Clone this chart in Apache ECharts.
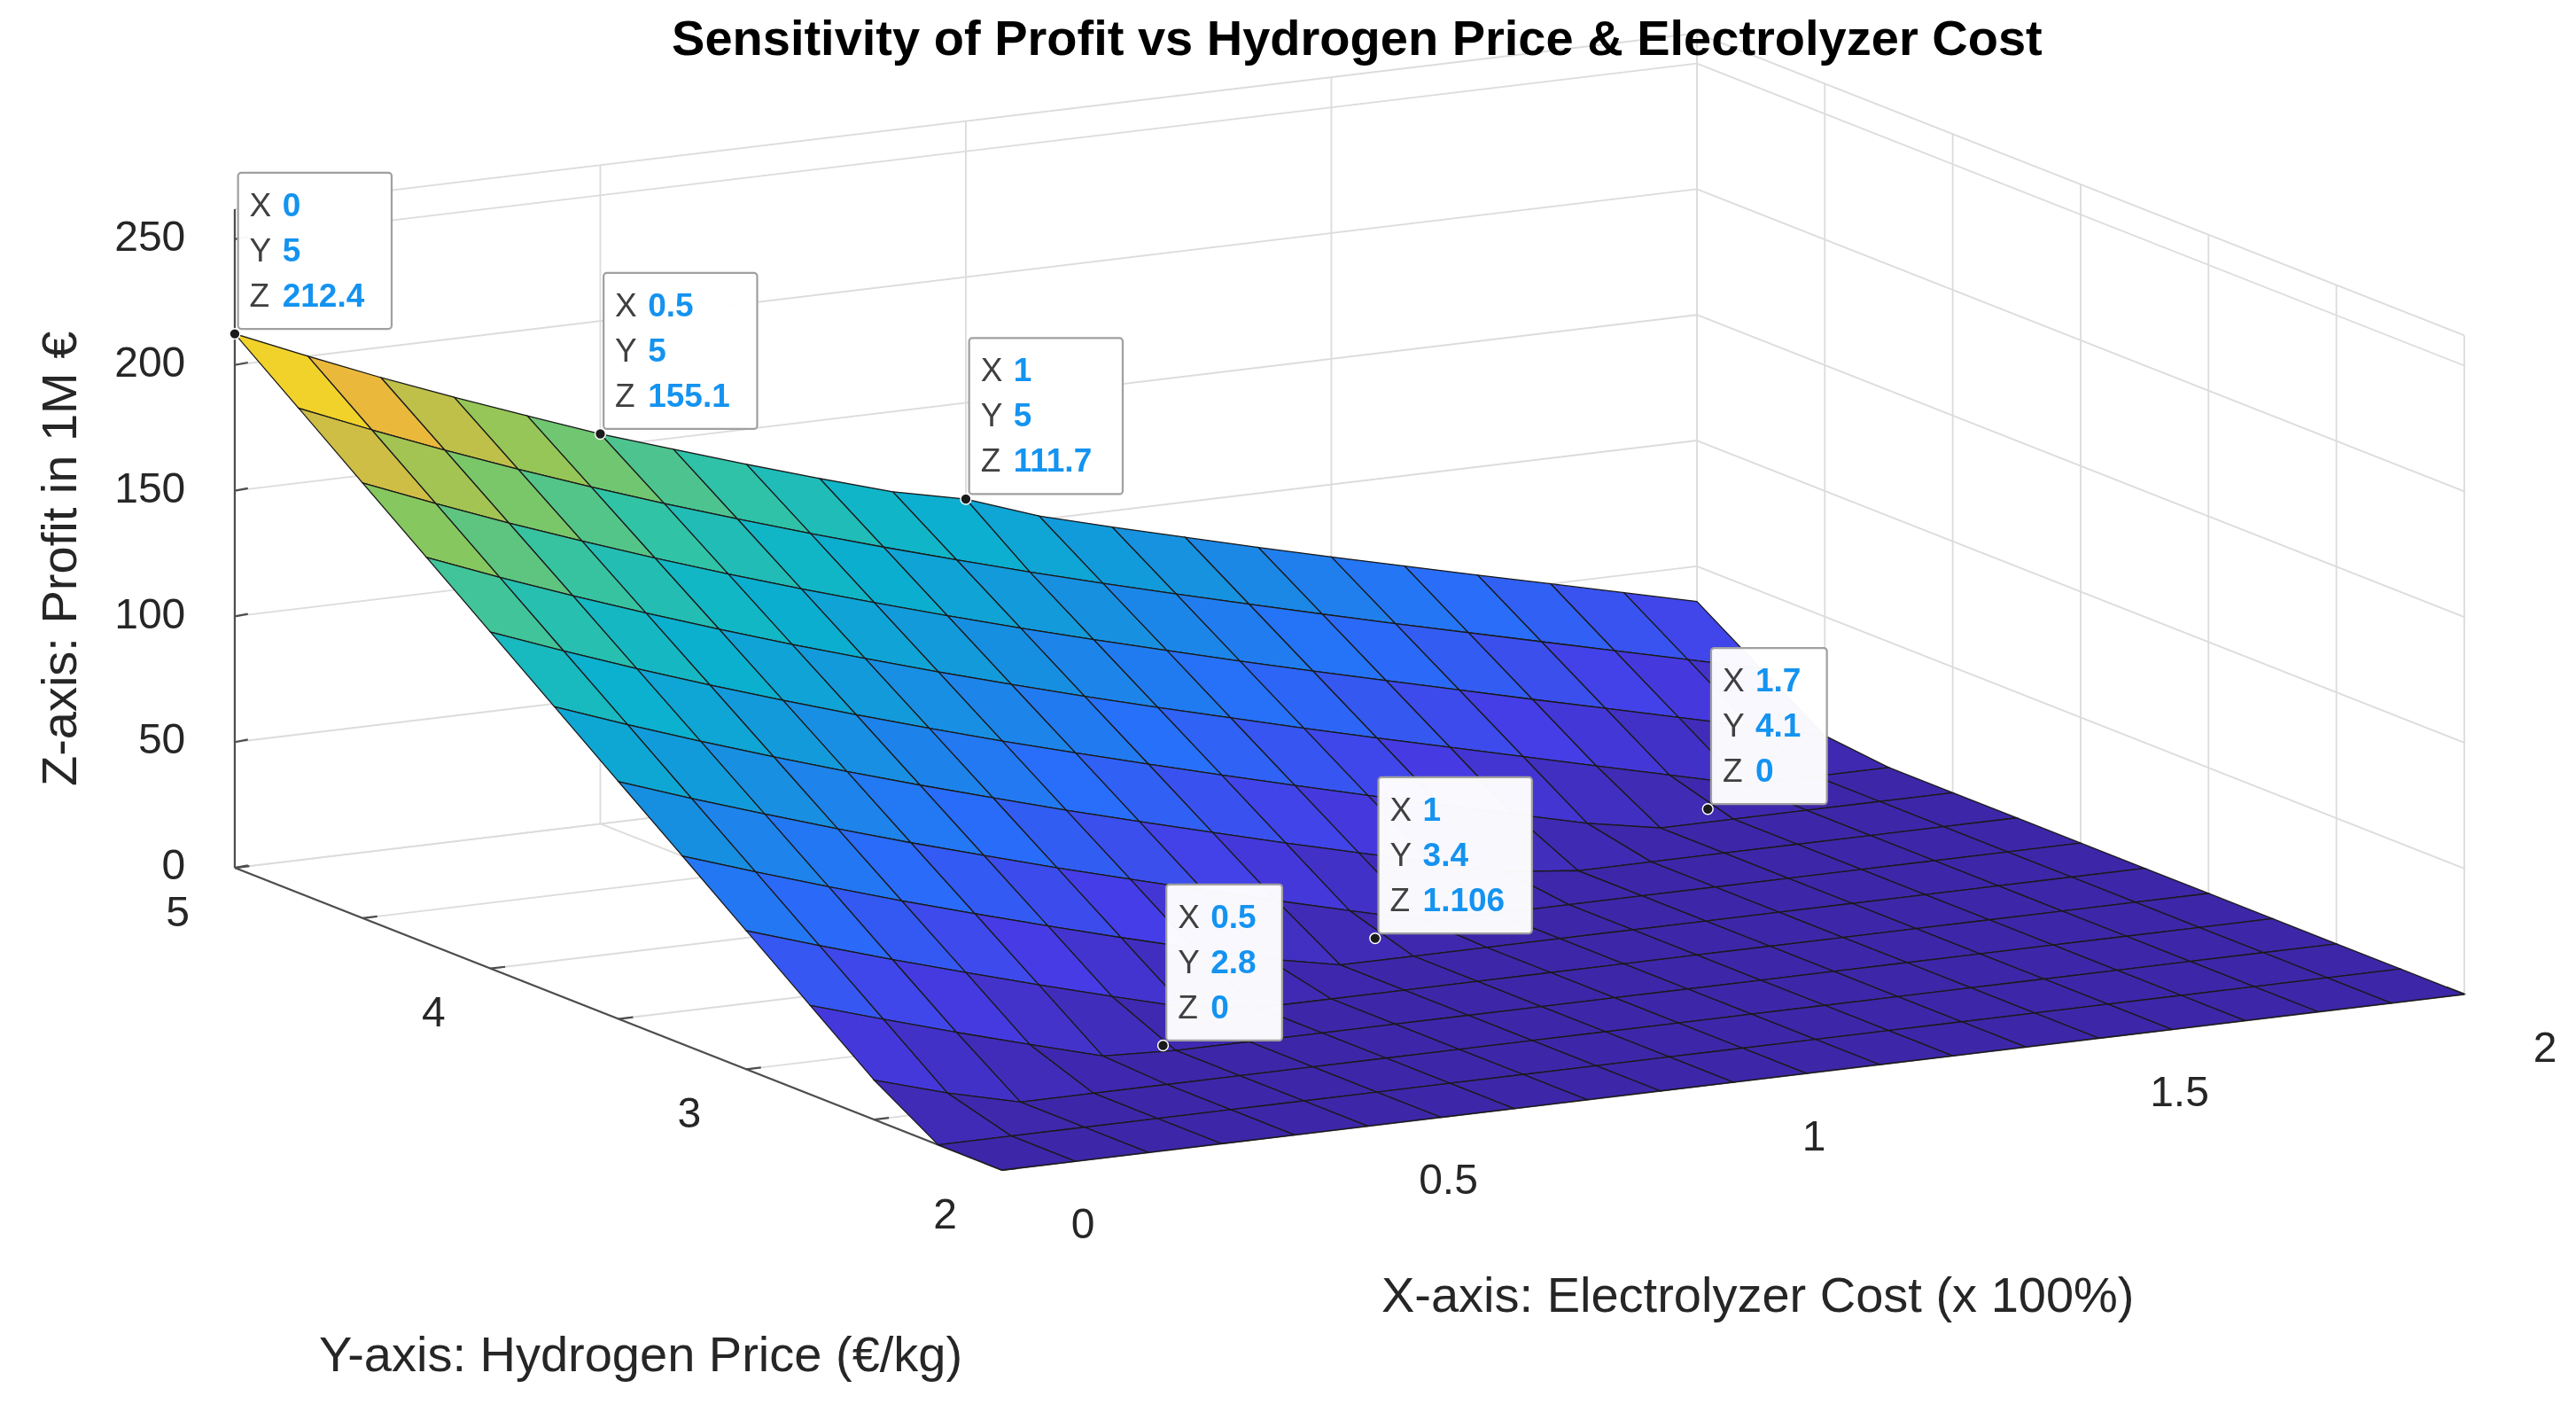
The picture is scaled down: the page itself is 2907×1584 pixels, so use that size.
<!DOCTYPE html>
<html lang="en">
<head>
    <meta charset="UTF-8">
    <title>Sensitivity of Profit</title>
    <script src="https://cdn.jsdelivr.net/npm/echarts@6/dist/echarts.min.js"></script>
    <style>html,body{margin:0;background:#fff}</style>
</head>
<body>
    <div id="main" style="width:2907px;height:1584px;"></div>

    <script type="text/javascript">
        // grid values
        var xValues = [0, 0.1, 0.2, 0.3, 0.4, 0.5, 0.6, 0.7, 0.8, 0.9, 1, 1.1, 1.2, 1.3, 1.4, 1.5, 1.6, 1.7, 1.8, 1.9, 2];
        var yValues = [2, 2.25, 2.5, 2.75, 3, 3.25, 3.5, 3.75, 4, 4.25, 4.5, 4.75, 5];
        var profit = [
            [0,0,0,0,0,0,0,0,0,0,0,0,0,0,0,0,0,0,0,0,0],
            [0,0,0,0,0,0,0,0,0,0,0,0,0,0,0,0,0,0,0,0,0],
            [15.7,7.1,0,0,0,0,0,0,0,0,0,0,0,0,0,0,0,0,0,0,0],
            [35.4,26.4,17.7,9.4,1.3,0,0,0,0,0,0,0,0,0,0,0,0,0,0,0,0],
            [55.1,45.7,36.6,28.0,19.6,11.5,3.7,0,0,0,0,0,0,0,0,0,0,0,0,0,0],
            [74.8,65.0,55.6,46.5,37.9,29.5,21.4,13.6,5.9,0,0,0,0,0,0,0,0,0,0,0,0],
            [94.4,84.2,74.5,65.1,56.1,47.5,39.1,31.1,23.2,15.6,8.1,0.8,0,0,0,0,0,0,0,0,0],
            [114.1,103.5,93.4,83.7,74.4,65.5,56.9,48.5,40.5,32.7,25.0,17.6,10.3,3.1,0,0,0,0,0,0,0],
            [133.8,122.8,112.3,102.3,92.7,83.5,74.6,66.0,57.8,49.8,42.0,34.4,26.9,19.6,12.4,5.3,0,0,0,0,0],
            [153.5,142.1,131.3,120.9,111.0,101.4,92.3,83.5,75.0,66.8,58.9,51.2,43.6,36.2,29.0,21.8,14.6,7.5,0.4,0,0],
            [173.1,161.4,150.2,139.5,129.2,119.4,110.0,101.0,92.3,83.9,75.8,68.0,60.3,52.8,45.5,38.3,31.1,24.0,16.9,9.8,2.7],
            [192.8,180.7,169.1,158.1,147.5,137.4,127.8,118.5,109.6,101.0,92.7,84.7,77.0,69.4,62.0,54.7,47.6,40.5,33.4,26.4,19.3],
            [212.4,200.0,188.0,176.7,165.8,155.1,145.5,136.0,126.9,118.1,111.7,101.5,93.6,86.0,78.5,71.2,64.1,57.0,50.0,43.0,36.0]
        ];
        var xTicks = [0, 0.5, 1, 1.5, 2];
        var yTicks = [2, 2.5, 3, 3.5, 4, 4.5, 5];
        var yTickLabels = [2, 3, 4, 5];
        var zTicks = [0, 50, 100, 150, 200, 250];
        var tipX = [0, 0.5, 1, 1.7, 1, 0.5];
        var tipY = [5, 5, 5, 4.1, 3.4, 2.8];
        var tipZ = ['212.4', '155.1', '111.7', '0', '1.106', '0'];

        var zMaxBox = 262;
        var chartDom = document.getElementById('main');
        var myChart = echarts.init(chartDom);
        var k = chartDom.clientWidth / 1568;

        // simple oblique projection of the 3D box
        function P(x, y, z) {
            return [k * (610 + 445 * x - 155.7 * (y - 2)), k * (712 - 53.5 * x - 61.3 * (y - 2) - 1.53 * z)];
        }

        // parula-like colormap
        var stops = [
            [0, [62, 38, 168]], [0.12, [70, 60, 230]], [0.25, [40, 110, 250]], [0.4, [20, 150, 220]],
            [0.52, [10, 180, 205]], [0.63, [50, 195, 165]], [0.75, [140, 200, 90]],
            [0.87, [235, 185, 60]], [1, [249, 245, 20]]
        ];
        function parula(t) {
            t = Math.max(0, Math.min(1, t));
            for (var i = 1; i < stops.length; i++) {
                if (t <= stops[i][0]) {
                    var a = stops[i - 1], b = stops[i], f = (t - a[0]) / (b[0] - a[0]);
                    return 'rgb(' + [0, 1, 2].map(function (c) { return Math.round(a[1][c] + f * (b[1][c] - a[1][c])); }).join(',') + ')';
                }
            }
        }

        var zMax = 212.4;
        var cells = [];
        for (var j = 0; j < yValues.length - 1; j++) {
            for (var i = 0; i < xValues.length - 1; i++) {
                cells.push([i, j, xValues[i] * 1.5 + yValues[j]]);
            }
        }
        cells.sort(function (a, b) { return b[2] - a[2]; });

        var font = '"Liberation Sans", Arial, sans-serif';
        function line(a, b, color, w) {
            return { type: 'line', shape: { x1: a[0], y1: a[1], x2: b[0], y2: b[1] }, style: { stroke: color, lineWidth: w * k } };
        }
        function txt(p, s, size, align, vAlign, extra) {
            return {
                type: 'text', x: p[0], y: p[1], rotation: extra && extra.rotation || 0,
                style: { text: s, font: (extra && extra.bold ? 'bold ' : '') + Math.round(size * k) + 'px ' + font, fill: extra && extra.bold ? '#000' : '#262626', align: align, verticalAlign: vAlign }
            };
        }

        function renderAxes() {
            var ch = [], g = '#dcdcdc';
            zTicks.forEach(function (z) {
                ch.push(line(P(0, 5, z), P(2, 5, z), g, 1));
                ch.push(line(P(2, 5, z), P(2, 2, z), g, 1));
            });
            xTicks.forEach(function (x) {
                ch.push(line(P(x, 5, 0), P(x, 5, zMaxBox), g, 1));
                ch.push(line(P(x, 2, 0), P(x, 5, 0), g, 1));
            });
            yTicks.forEach(function (y) {
                ch.push(line(P(2, y, 0), P(2, y, zMaxBox), g, 1));
                ch.push(line(P(0, y, 0), P(2, y, 0), g, 1));
            });
            ch.push(line(P(0, 5, zMaxBox), P(2, 5, zMaxBox), g, 1));
            ch.push(line(P(2, 5, zMaxBox), P(2, 2, zMaxBox), g, 1));
            // axes
            var ax = '#4d4d4d';
            ch.push(line(P(0, 5, 0), P(0, 5, zMaxBox), ax, 1.2));
            ch.push(line(P(0, 5, 0), P(0, 2, 0), ax, 1.2));
            ch.push(line(P(0, 2, 0), P(2, 2, 0), ax, 1.2));
            zTicks.forEach(function (z) {
                var p = P(0, 5, z);
                ch.push(line(p, [p[0] + 8 * k, p[1] - 1.5 * k], ax, 1.2));
                ch.push(txt([p[0] - 30 * k, p[1]], String(z), 26, 'right', 'middle'));
            });
            yTicks.forEach(function (y) {
                ch.push(line(P(0, y, 0), P(0.02, y, 0), ax, 1.2));
            });
            yTickLabels.forEach(function (y) {
                var p = P(-0.06, y, 0);
                ch.push(txt([p[0] - 8 * k, p[1] + 25 * k], String(y), 26, 'center', 'middle'));
            });
            xTicks.forEach(function (x) {
                ch.push(line(P(x, 2, 0), P(x, 2.07, 0), ax, 1.2));
                var p = P(x, 1.8, 0);
                ch.push(txt([p[0] + 18 * k, p[1] + 22 * k], String(x), 26, 'center', 'middle'));
            });
            ch.push(txt([826 * k, 25 * k], 'Sensitivity of Profit vs Hydrogen Price & Electrolyzer Cost', 30, 'center', 'middle', { bold: true }));
            ch.push(txt([1070 * k, 790 * k], 'X-axis: Electrolyzer Cost (x 100%)', 30, 'center', 'middle'));
            ch.push(txt([390 * k, 826 * k], 'Y-axis: Hydrogen Price (€/kg)', 30, 'center', 'middle'));
            ch.push(txt([38 * k, 340 * k], 'Z-axis: Profit in 1M €', 30, 'center', 'middle', { rotation: Math.PI / 2 }));
            return { type: 'group', children: ch };
        }

        function renderCell(params, api) {
            var c = cells[params.dataIndex], i = c[0], j = c[1];
            var z00 = profit[j][i], z10 = profit[j][i + 1], z11 = profit[j + 1][i + 1], z01 = profit[j + 1][i];
            var pts = [P(xValues[i], yValues[j], z00), P(xValues[i + 1], yValues[j], z10),
                       P(xValues[i + 1], yValues[j + 1], z11), P(xValues[i], yValues[j + 1], z01)];
            return {
                type: 'polygon', shape: { points: pts },
                style: { fill: parula((z00 + z10 + z11 + z01) / 4 / zMax), stroke: '#1a1a1a', lineWidth: 0.7 * k }
            };
        }

        function renderTip(params, api) {
            var n = params.dataIndex;
            var p = P(tipX[n], tipY[n], Number(tipZ[n]));
            var vals = [String(tipX[n]), String(tipY[n]), tipZ[n]];
            var maxLen = Math.max.apply(null, vals.map(function (v) { return v.length; }));
            var w = (36 + 11.5 * maxLen) * k, h = 95 * k;
            var bx = p[0] + 2 * k, by = p[1] - h - 3 * k;
            var ch = [{ type: 'rect', shape: { x: bx, y: by, width: w, height: h, r: 2 * k },
                        style: { fill: 'rgba(255,255,255,0.97)', stroke: '#a0a0a0', lineWidth: 1.2 * k } }];
            ['X', 'Y', 'Z'].forEach(function (lab, r) {
                var ty = by + (21 + r * 27.5) * k;
                ch.push({ type: 'text', x: bx + 7 * k, y: ty, style: { text: lab, font: Math.round(20 * k) + 'px ' + font, fill: '#404040', verticalAlign: 'middle' } });
                ch.push({ type: 'text', x: bx + 27 * k, y: ty, style: { text: vals[r], font: 'bold ' + Math.round(20 * k) + 'px ' + font, fill: '#1493f0', verticalAlign: 'middle' } });
            });
            ch.push({ type: 'circle', shape: { cx: p[0], cy: p[1], r: 3.2 * k }, style: { fill: '#1a1a1a', stroke: '#ffffff', lineWidth: 0.8 * k } });
            return { type: 'group', children: ch };
        }

        var option = {
            animation: false,
            series: [
                { type: 'custom', coordinateSystem: 'none', silent: true, data: [0], renderItem: renderAxes, z: 1 },
                { type: 'custom', coordinateSystem: 'none', silent: true, data: cells.map(function (c, n) { return n; }), renderItem: renderCell, z: 2 },
                { type: 'custom', coordinateSystem: 'none', silent: true, data: tipX.map(function (v, n) { return n; }), renderItem: renderTip, z: 3 }
            ]
        };
        myChart.setOption(option);
    </script>
</body>
</html>
